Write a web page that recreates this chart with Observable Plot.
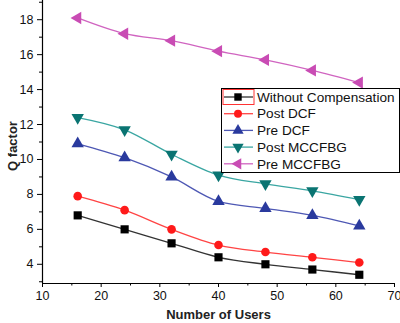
<!DOCTYPE html>
<html>
<head>
<meta charset="utf-8">
<script src="https://cdn.jsdelivr.net/npm/d3@7"></script>
<script src="https://cdn.jsdelivr.net/npm/@observablehq/plot@0.6"></script>
<style>
  html, body { margin: 0; padding: 0; background: #fff; }
  #wrap { position: relative; width: 400px; height: 323px; font-family: "Liberation Sans", Arial, sans-serif; }
  #legend { position: absolute; left: 221px; top: 88px; }
</style>
</head>
<body>
<div id="wrap"></div>
<script>
const users = [16, 24, 32, 40, 48, 56, 64];
const seriesNames = ["Without Compensation", "Post DCF", "Pre DCF", "Post MCCFBG", "Pre MCCFBG"];
const withoutComp = [6.8, 6.0, 5.2, 4.4, 4.0, 3.7, 3.4];
const postDCF = [7.9, 7.1, 6.0, 5.1, 4.7, 4.4, 4.1];
const preDCF = [10.9, 10.1, 9.0, 7.6, 7.2, 6.8, 6.2];
const postMCCFBG = [12.4, 11.7, 10.3, 9.1, 8.6, 8.2, 7.7];
const preMCCFBG = [18.1, 17.2, 16.8, 16.2, 15.7, 15.1, 14.4];
const xTicks = [10, 20, 30, 40, 50, 60, 70];
const xMinor = [15, 25, 35, 45, 55, 65];
const yTicks = [4, 6, 8, 10, 12, 14, 16, 18];
const yMinor = [3, 5, 7, 9, 11, 13, 15, 17, 19];

const valuesList = [withoutComp, postDCF, preDCF, postMCCFBG, preMCCFBG];
const markerColors = ["#000000", "#ff1a1a", "#2a3a9e", "#0a7472", "#c94cb4"];
const lineColors = ["#333333", "#ff4444", "#4e58b4", "#3aa6a2", "#d064c0"];
const symbols = ["square", "circle", "triangle", "triangle", "triangle"];
const rotations = [0, 0, 0, 180, -90];

const data = [];
seriesNames.forEach((s, i) => users.forEach((u, j) => data.push({series: s, users: u, q: valuesList[i][j], idx: i})));

const marks = [];
seriesNames.forEach((s, i) => {
  const d = data.filter(r => r.idx === i);
  marks.push(Plot.line(d, {x: "users", y: "q", stroke: lineColors[i], strokeWidth: 1.3, curve: "monotone-x"}));
  marks.push(Plot.dot(d, {x: "users", y: "q", fill: markerColors[i], stroke: "none", symbol: symbols[i], r: i === 1 ? 4.3 : 4.6, rotate: rotations[i]}));
});

const chart = Plot.plot({
  width: 400,
  height: 323,
  marginLeft: 42,
  marginRight: 6,
  marginTop: 0,
  marginBottom: 40,
  style: {fontFamily: "'Liberation Sans', Arial, sans-serif", background: "#fff", overflow: "visible"},
  x: {domain: [10, 70]},
  y: {domain: [2.9, 19.1]},
  marks: [
    Plot.axisX(xTicks, {tickSize: 4, tickPadding: 4, fontSize: 12.5, label: null, stroke: "#000", fill: "#111", strokeWidth: 1}),
    Plot.axisX(xMinor, {tickSize: 2.5, text: null, label: null, stroke: "#000", strokeWidth: 1}),
    Plot.axisY(yTicks, {tickSize: 5, tickPadding: 4, fontSize: 12.5, label: null, stroke: "#000", fill: "#111", strokeWidth: 1}),
    Plot.axisY(yMinor, {tickSize: 3, text: null, label: null, stroke: "#000", strokeWidth: 1}),
    Plot.ruleY([2.9], {stroke: "#000", strokeWidth: 1.2}),
    Plot.ruleX([10], {stroke: "#000", strokeWidth: 1.2}),
    Plot.text(["Number of Users"], {frameAnchor: "bottom", dy: 35, fontSize: 13, fontWeight: "bold", fill: "#222"}),
    Plot.text(["Q factor"], {frameAnchor: "left", textAnchor: "middle", dx: -30, dy: 4, rotate: -90, fontSize: 13, fontWeight: "bold", fill: "#222"}),
    ...marks
  ]
});
document.getElementById("wrap").appendChild(chart);

// Legend overlay
const lw = 178, lh = 84, rowH = 16.7;
const leg = d3.select("#wrap").append("svg").attr("id", "legend").attr("width", lw + 2).attr("height", lh + 2);
leg.append("rect").attr("x", 0.5).attr("y", 0.5).attr("width", lw).attr("height", lh).attr("fill", "#fff").attr("stroke", "#000").attr("stroke-width", 1);
const symMap = {square: d3.symbolSquare, circle: d3.symbolCircle, triangle: d3.symbolTriangle};
seriesNames.forEach((s, i) => {
  const y = 9 + i * rowH;
  const g = leg.append("g");
  g.append("line").attr("x1", 3).attr("x2", 32).attr("y1", y).attr("y2", y).attr("stroke", lineColors[i]).attr("stroke-width", 1.3);
  g.append("path").attr("d", d3.symbol(symMap[symbols[i]], i === 1 ? 50 : 55)())
    .attr("transform", `translate(17,${y}) rotate(${rotations[i]})`).attr("fill", markerColors[i]);
  g.append("text").attr("x", 36).attr("y", y).attr("dy", "0.35em").attr("font-size", 13.6).attr("fill", "#111")
    .attr("font-family", "'Liberation Sans', Arial, sans-serif").text(s);
});
leg.append("rect").attr("x", 2).attr("y", 1.5).attr("width", 31).attr("height", 15).attr("fill", "none").attr("stroke", "#ff3333").attr("stroke-width", 1);
</script>
</body>
</html>
